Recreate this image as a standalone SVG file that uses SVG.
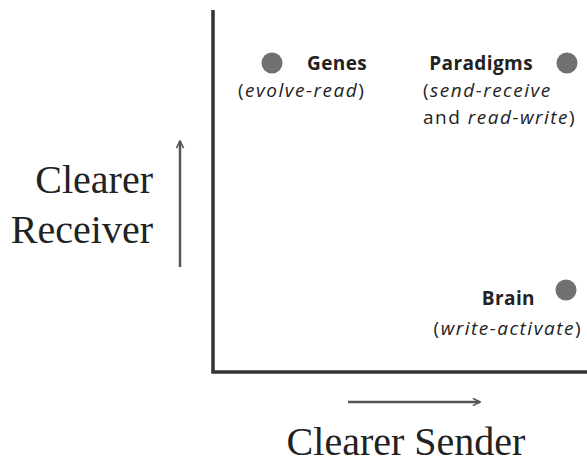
<svg xmlns="http://www.w3.org/2000/svg" width="587" height="466" viewBox="0 0 587 466">
<defs>
<style>
.lbl{font-family:"Open Sans","Noto Sans",sans-serif;font-size:19px;letter-spacing:1.5px;fill:#222}
.b{font-weight:bold;font-size:19px;letter-spacing:0.4px}
.i{font-style:italic}
.ax{font-family:"Liberation Serif",serif;font-size:40px;fill:#222}
.dot{fill:#707070}
.axis{stroke:#333;stroke-width:3.5;fill:none}
.arr{stroke:#555;stroke-width:2.5;fill:none}
</style>
<marker id="ah" viewBox="0 0 10 10" refX="9" refY="5" markerWidth="9" markerHeight="9" orient="auto" markerUnits="userSpaceOnUse">
<path d="M1,1 L9,5 L1,9" fill="none" stroke="#555" stroke-width="1.8"/>
</marker>
</defs>
<rect width="587" height="466" fill="#fff"/>
<g id="connectors">
<path class="axis" d="M213,10 V372 H587"/>
<line class="arr" x1="180" y1="267" x2="180" y2="141" marker-end="url(#ah)"/>
<line class="arr" x1="348" y1="402" x2="480" y2="402" marker-end="url(#ah)"/>
</g>
<g id="axis-y"><text class="ax" text-anchor="end" x="153" y="193">Clearer</text><text class="ax" text-anchor="end" x="153" y="243">Receiver</text></g>
<g id="axis-x"><text class="ax" text-anchor="middle" x="406" y="455">Clearer Sender</text></g>
<g id="genes">
<circle class="dot" cx="272" cy="63" r="10.5"/>
<text class="lbl b" x="307" y="70">Genes</text>
<text class="lbl" x="238" y="97">(<tspan class="i">evolve-read</tspan>)</text>
</g>
<g id="paradigms">
<circle class="dot" cx="567" cy="63" r="10.5"/>
<text class="lbl b" text-anchor="end" x="533" y="70">Paradigms</text>
<text class="lbl" x="423" y="97">(<tspan class="i">send-receive</tspan></text>
<text class="lbl" x="423" y="124">and <tspan class="i">read-write</tspan>)</text>
</g>
<g id="brain">
<circle class="dot" cx="566" cy="290" r="10.5"/>
<text class="lbl b" text-anchor="end" x="535" y="305">Brain</text>
<text class="lbl" text-anchor="end" x="582" y="335">(<tspan class="i">write-activate</tspan>)</text>
</g>
</svg>
